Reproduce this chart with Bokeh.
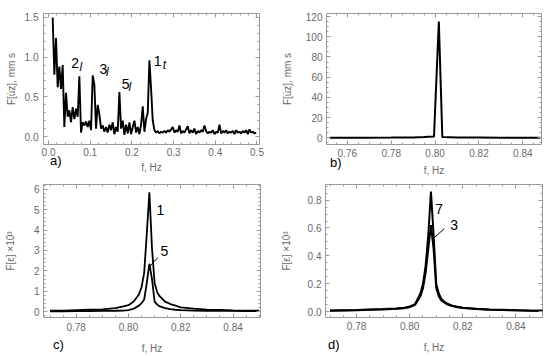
import numpy as np
from bokeh.plotting import figure
from bokeh.models import Range1d, FixedTicker, NumeralTickFormatter, LinearAxis, Label, CustomJSTickFormatter
from bokeh.layouts import column, row
from bokeh.embed import file_html
from bokeh.resources import INLINE

# ---------------- data ----------------
# panel a: spectrum of u_z, 0.01 ... 0.498 Hz, step 0.004
a_freq = np.round(0.010 + 0.004 * np.arange(123), 3)
a_amp = [1.50, 0.78, 1.24, 0.62, 0.88, 0.60, 0.90, 0.12, 0.55, 0.25,
         0.33, 0.18, 0.37, 0.22, 0.35, 0.25, 0.76, 0.05, 0.18, 0.14,
         0.19, 0.12, 0.20, 0.08, 0.77, 0.65, 0.10, 0.40, 0.28, 0.10,
         0.14, 0.06, 0.12, 0.05, 0.15, 0.08, 0.18, 0.03, 0.12, 0.06,
         0.56, 0.10, 0.20, 0.02, 0.15, 0.04, 0.18, 0.03, 0.12, 0.20,
         0.05, 0.12, 0.03, 0.15, 0.38, 0.06, 0.22, 0.30, 0.96, 0.60,
         0.20, 0.08, 0.05, 0.07, 0.04, 0.06, 0.05, 0.07, 0.05, 0.08,
         0.06, 0.09, 0.12, 0.05, 0.08, 0.06, 0.14, 0.04, 0.07, 0.05,
         0.09, 0.13, 0.04, 0.08, 0.05, 0.10, 0.03, 0.07, 0.05, 0.08,
         0.06, 0.14, 0.07, 0.04, 0.06, 0.05, 0.08, 0.03, 0.06, 0.05,
         0.15, 0.04, 0.07, 0.05, 0.08, 0.04, 0.06, 0.05, 0.07, 0.03,
         0.08, 0.05, 0.06, 0.04, 0.07, 0.05, 0.08, 0.03, 0.09, 0.05,
         0.06, 0.04, 0.05]

# panel b
b_freq = [0.752, 0.760, 0.770, 0.780, 0.790, 0.795, 0.7995, 0.8017, 0.8033, 0.810, 0.820, 0.830, 0.840, 0.848]
b_amp = [0.1, 0.1, 0.2, 0.3, 0.5, 0.8, 1.5, 115.0, 0.8, 0.4, 0.3, 0.2, 0.1, 0.1]

# panels c and d share a frequency grid
cd_freq = [0.770, 0.775, 0.780, 0.785, 0.790, 0.795, 0.798, 0.800, 0.802, 0.804,
           0.805, 0.806, 0.807, 0.808, 0.809, 0.810, 0.811, 0.812, 0.814, 0.816,
           0.818, 0.820, 0.825, 0.830, 0.835, 0.840, 0.845, 0.850]
c_eps1 = [0.05, 0.06, 0.08, 0.10, 0.12, 0.18, 0.26, 0.32, 0.50, 0.85,
          1.20, 1.90, 3.80, 5.85, 3.10, 1.40, 0.95, 0.75, 0.50, 0.38,
          0.30, 0.22, 0.15, 0.11, 0.09, 0.07, 0.06, 0.05]
c_eps5 = [0.02, 0.02, 0.03, 0.03, 0.04, 0.05, 0.06, 0.08, 0.15, 0.30,
          0.42, 0.60, 1.40, 2.35, 1.60, 0.50, 0.35, 0.26, 0.18, 0.13,
          0.10, 0.08, 0.06, 0.05, 0.04, 0.04, 0.03, 0.03]
d_eps7 = [0.010, 0.012, 0.014, 0.017, 0.020, 0.025, 0.030, 0.038, 0.055, 0.13,
          0.20, 0.33, 0.55, 0.86, 0.55, 0.20, 0.13, 0.09, 0.06, 0.045,
          0.037, 0.030, 0.022, 0.018, 0.015, 0.012, 0.010, 0.009]
d_eps3 = [0.008, 0.010, 0.012, 0.015, 0.018, 0.022, 0.027, 0.034, 0.050, 0.11,
          0.17, 0.28, 0.45, 0.62, 0.45, 0.17, 0.11, 0.08, 0.055, 0.042,
          0.034, 0.028, 0.020, 0.016, 0.013, 0.011, 0.009, 0.008]

# ticks
a_xticks = [0.0, 0.1, 0.2, 0.3, 0.4, 0.5]
a_yticks = [0.0, 0.5, 1.0, 1.5]
b_xticks = [0.76, 0.78, 0.80, 0.82, 0.84]
b_yticks = [0, 20, 40, 60, 80, 100, 120]
cd_xticks = [0.78, 0.80, 0.82, 0.84]
c_yticks = [0, 1, 2, 3, 4, 5, 6]
d_yticks = [0.0, 0.2, 0.4, 0.6, 0.8]

# annotation texts / positions
a_notes = [("2", 0.0636, 0.925), ("3", 0.1316, 0.855), ("5", 0.185, 0.66), ("1", 0.262, 0.95)]
a_subs = [("l", 0.0773, 0.88), ("l", 0.141, 0.81), ("l", 0.195, 0.625), ("t", 0.278, 0.896)]
c_notes = [("1", 0.8122, 4.98), ("5", 0.8137, 2.99)]
c_lead_x = [0.8112, 0.8080]
c_lead_y = [2.65, 2.20]
d_notes = [("7", 0.8111, 0.737), ("3", 0.8167, 0.619)]
d_lead_x = [0.8130, 0.8086]
d_lead_y = [0.595, 0.52]
panel_tags = {"a": ("a)", 0.0175), "b": ("b)", 0.7547), "c": ("c)", 0.7732), "d": ("d)", 0.7714)}

GRAY = "#9a9a9a"
TXT = "#6a6a6a"
FONT = "Liberation Sans"


def minor(step, lo, hi):
    n0 = int(np.floor(lo / step)) - 1
    n1 = int(np.ceil(hi / step)) + 1
    return [round(k * step, 6) for k in range(n0, n1 + 1)]


def style_axis(ax):
    ax.axis_line_color = None
    ax.major_tick_in = 4
    ax.major_tick_out = 0
    ax.minor_tick_in = 2
    ax.minor_tick_out = 0
    ax.major_tick_line_color = GRAY
    ax.minor_tick_line_color = GRAY
    ax.major_label_text_color = TXT
    ax.major_label_text_font = FONT
    ax.major_label_text_font_size = "10px"
    ax.major_label_text_line_height = 1.0
    ax.axis_label_text_color = TXT
    ax.axis_label_text_font = FONT
    ax.axis_label_text_font_size = "10px"
    ax.axis_label_text_font_style = "normal"
    ax.axis_label_text_line_height = 1.0


def make(width, height, xr, yr, xt, xm, yt, ym, xfmt, yfmt, ylabel, borders,
         ylab_stand, ytick_stand, tag, xstands):
    p = figure(width=width, height=height, x_range=Range1d(*xr), y_range=Range1d(*yr),
               output_backend="svg", toolbar_location=None, y_axis_label=ylabel)
    p.min_border_left, p.min_border_right, p.min_border_top, p.min_border_bottom = borders
    p.outline_line_color = GRAY
    p.outline_line_width = 1
    p.xgrid.visible = False
    p.ygrid.visible = False
    p.background_fill_color = "white"
    p.border_fill_color = "white"
    main_x = p.xaxis[0]
    main_y = p.yaxis[0]
    xtick = FixedTicker(ticks=xt, minor_ticks=minor(xm, xr[0], xr[1]))
    ytick = FixedTicker(ticks=yt, minor_ticks=minor(ym, yr[0], yr[1]))
    main_x.ticker = xtick
    main_y.ticker = ytick
    main_x.formatter = NumeralTickFormatter(format=xfmt)
    main_y.formatter = NumeralTickFormatter(format=yfmt)
    main_x.axis_label = None
    top_ax = LinearAxis(ticker=xtick, formatter=CustomJSTickFormatter(code="return ''"))
    right_ax = LinearAxis(ticker=ytick, formatter=CustomJSTickFormatter(code="return ''"))
    for ax in (main_x, main_y, top_ax, right_ax):
        style_axis(ax)
    for ax in (top_ax, right_ax):
        ax.major_label_standoff = 0
        ax.axis_label_standoff = 0
        ax.major_label_text_font_size = "1px"
    p.add_layout(top_ax, "above")
    p.add_layout(right_ax, "right")
    main_y.major_label_standoff = ytick_stand
    main_y.axis_label_standoff = ylab_stand
    s1, s2, s3 = xstands
    main_x.major_label_standoff = s1
    # second bottom axis: carries the panel tag as its only tick label and the axis title
    text, xpos = tag
    tag_axis = LinearAxis(ticker=FixedTicker(ticks=[xpos], minor_ticks=[]),
                          formatter=CustomJSTickFormatter(code="return '%s'" % text),
                          axis_label="f, Hz")
    style_axis(tag_axis)
    tag_axis.major_tick_line_color = None
    tag_axis.minor_tick_line_color = None
    tag_axis.major_tick_in = 0
    tag_axis.minor_tick_in = 0
    tag_axis.major_label_standoff = s2
    tag_axis.major_label_text_color = "black"
    tag_axis.major_label_text_font_size = "13px"
    tag_axis.axis_label_standoff = s3
    p.add_layout(tag_axis, "below")
    return p


def note(p, txt, x, y, size="14px", style="normal"):
    p.add_layout(Label(x=x, y=y, text=txt, text_font=FONT, text_font_size=size,
                       text_font_style=style, text_color="black",
                       text_align="center", text_baseline="middle"))


# ---- panel a
pa = make(275, 178, (-0.012, 0.506), (-0.1, 1.55), a_xticks, 0.02, a_yticks, 0.1,
          "0.0", "0.0", "F[u̇z], mm s", (43, 16, 13, 33), 5, 5, panel_tags["a"], (3, -6, -9))
pa.line(a_freq, a_amp, color="black", line_width=1.9)
for t, x, y in a_notes:
    note(pa, t, x, y)
for t, x, y in a_subs:
    note(pa, t, x, y, size="12px", style="italic")

# ---- panel b
pb = make(275, 178, (0.7505, 0.8485), (-6.5, 123), b_xticks, 0.005, b_yticks, 5,
          "0.00", "0", "F[u̇z], mm s", (51, 9, 10, 34), 10, 4, panel_tags["b"], (4, -5, -8))
pb.line(b_freq, b_amp, color="black", line_width=2)

# ---- panel c
pc = make(275, 178, (0.7675, 0.8505), (-0.28, 6.23), cd_xticks, 0.005, c_yticks, 0.2,
          "0.00", "0", "F[ε] ×10³", (43, 15, 6, 38), 15, 4, panel_tags["c"], (5, 3, -12))
pc.line(cd_freq, c_eps1, color="black", line_width=1.8)
pc.line(cd_freq, c_eps5, color="black", line_width=1.8)
pc.line(c_lead_x, c_lead_y, color="black", line_width=1)
for t, x, y in c_notes:
    note(pc, t, x, y)

# ---- panel d
pd_ = make(275, 178, (0.7683, 0.8500), (-0.04, 0.911), cd_xticks, 0.005, d_yticks, 0.05,
           "0.00", "0.0", "F[ε] ×10³", (50, 8, 6, 37), 13, 4, panel_tags["d"], (4, 4, -13))
pd_.line(cd_freq, d_eps7, color="black", line_width=2)
pd_.line(cd_freq, d_eps3, color="black", line_width=2)
pd_.line(d_lead_x, d_lead_y, color="black", line_width=1)
for t, x, y in d_notes:
    note(pd_, t, x, y)

layout = column(row(pa, pb), row(pc, pd_))
open("out.html", "w").write(file_html(layout, INLINE))
